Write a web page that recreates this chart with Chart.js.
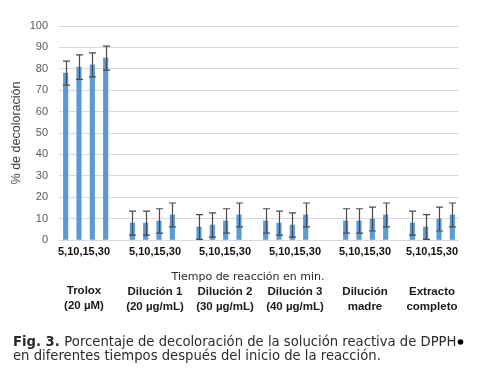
<!DOCTYPE html>
<html>
<head>
<meta charset="utf-8">
<script src="https://cdn.jsdelivr.net/npm/chart.js@4.4.1/dist/chart.umd.min.js"></script>
<style>
  html, body { margin: 0; padding: 0; background: #fff; }
  #wrap { width: 490px; height: 378px; position: relative; }
</style>
</head>
<body>
<div id="wrap"><canvas id="dpphChart" width="490" height="378"></canvas></div>
<script>
// ── Data ─────────────────────────────────────────────────────────────────────
const groupNames = [
    ['Trolox', '(20 µM)'],
    ['Dilución 1', '(20 µg/mL)'],
    ['Dilución 2', '(30 µg/mL)'],
    ['Dilución 3', '(40 µg/mL)'],
    ['Dilución', 'madre'],
    ['Extracto', 'completo']
];
const times = ['5', '10', '15', '30'];
const timeTickLabel = '5,10,15,30';
const yTicks = [0, 10, 20, 30, 40, 50, 60, 70, 80, 90, 100];

const trolox    = [78.0, 80.8, 81.8, 85.0];
const dilucion1 = [7.9, 7.9, 8.9, 11.7];
const dilucion2 = [6.1, 7.0, 8.9, 11.7];
const dilucion3 = [8.9, 7.9, 7.0, 11.7];
const madre     = [8.9, 8.9, 9.8, 11.7];
const extracto  = [7.9, 6.1, 9.8, 11.7];

const errTrolox    = [5.6, 5.7, 5.6, 5.6];
const errDilucion1 = [5.6, 5.6, 5.7, 5.6];
const errDilucion2 = [5.8, 5.7, 5.7, 5.6];
const errDilucion3 = [5.7, 5.6, 5.7, 5.6];
const errMadre     = [5.7, 5.7, 5.6, 5.6];
const errExtracto  = [5.6, 5.8, 5.6, 5.6];

// empty categories after each group (Excel-style spacing)
const gapsAfter = [1, 1, 1, 2, 1, 0];

const groupValues = [trolox, dilucion1, dilucion2, dilucion3, madre, extracto];
const groupErrors = [errTrolox, errDilucion1, errDilucion2, errDilucion3, errMadre, errExtracto];

// flatten into category axis
const labels = [], values = [], errors = [];
groupValues.forEach((vals, g) => {
    vals.forEach((v, i) => {
        labels.push(times[i]);
        values.push(v);
        errors.push(groupErrors[g][i]);
    });
    for (let k = 0; k < gapsAfter[g]; k++) {
        labels.push('');
        values.push(null);
        errors.push(null);
    }
});

// ── Error bars ───────────────────────────────────────────────────────────────
const errorBars = {
    id: 'errorBars',
    afterDatasetsDraw(chart) {
        const { ctx, scales: { y } } = chart;
        const meta = chart.getDatasetMeta(0);
        ctx.save();
        ctx.strokeStyle = '#4a4a4a';
        ctx.lineWidth = 1.2;
        meta.data.forEach((bar, i) => {
            const v = values[i], e = errors[i];
            if (v == null) return;
            const x = Math.round(bar.x) + 0.5;
            const yTop = y.getPixelForValue(v + e);
            const yBot = y.getPixelForValue(Math.max(v - e, 0));
            ctx.beginPath();
            ctx.moveTo(x, yTop); ctx.lineTo(x, yBot);
            ctx.moveTo(x - 3.5, yTop); ctx.lineTo(x + 3.5, yTop);
            ctx.moveTo(x - 3.5, yBot); ctx.lineTo(x + 3.5, yBot);
            ctx.stroke();
        });
        ctx.restore();
    }
};

// ── Text under the plot ──────────────────────────────────────────────────────
const labelCenters = [84, 155, 225, 295, 365, 432];

const bottomText = {
    id: 'bottomText',
    afterDraw(chart) {
        const { ctx } = chart;
        ctx.save();
        ctx.textAlign = 'center';
        ctx.textBaseline = 'middle';

        ctx.fillStyle = '#111';
        ctx.font = 'bold 11px "Liberation Sans", Arial, sans-serif';
        labelCenters.forEach(cx => ctx.fillText(timeTickLabel, cx, 252));

        ctx.fillStyle = '#2a2a2a';
        ctx.font = '11px "DejaVu Sans", Verdana, sans-serif';
        ctx.fillText('Tiempo de reacción en min.', 248, 277);

        ctx.fillStyle = '#1a1a1a';
        ctx.font = 'bold 11.5px "Liberation Sans", Arial, sans-serif';
        groupNames.forEach((lines, g) => {
            const dy = g === 0 ? -1 : 0;
            ctx.fillText(lines[0], labelCenters[g], 292 + dy);
            ctx.fillText(lines[1], labelCenters[g], 307 + dy);
        });

        // caption
        ctx.textAlign = 'left';
        ctx.fillStyle = '#2b2b2b';
        const bold = 'bold 13.2px "DejaVu Sans", Verdana, sans-serif';
        const reg = '13.2px "DejaVu Sans", Verdana, sans-serif';
        ctx.font = bold;
        ctx.fillText('Fig. 3.', 13, 343);
        let x = 13 + ctx.measureText('Fig. 3. ').width;
        ctx.font = reg;
        const line1 = 'Porcentaje de decoloración de la solución reactiva de DPPH';
        ctx.fillText(line1, x, 343);
        x += ctx.measureText(line1).width;
        ctx.fillStyle = '#000';
        ctx.beginPath();
        ctx.arc(x + 4, 342, 2.8, 0, Math.PI * 2);
        ctx.fill();
        ctx.fillStyle = '#2b2b2b';
        ctx.fillText('en diferentes tiempos después del inicio de la reacción.', 13, 357);
        ctx.restore();
    }
};

// ── Chart ────────────────────────────────────────────────────────────────────
const ctx = document.getElementById('dpphChart').getContext('2d');
const chart = new Chart(ctx, {
    type: 'bar',
    data: {
        labels: labels,
        datasets: [{
            label: '% de decoloración',
            data: values,
            backgroundColor: '#5b9bd5',
            borderWidth: 0,
            barThickness: 4.5,
            categoryPercentage: 1,
            barPercentage: 1
        }]
    },
    options: {
        responsive: false,
        animation: false,
        layout: { padding: { left: 0, right: 31, top: 26, bottom: 138 } },
        plugins: {
            legend: { display: false },
            tooltip: { enabled: false }
        },
        scales: {
            x: {
                offset: true,
                grid: { display: false },
                border: { display: false },
                ticks: { display: false },
                afterFit: s => { s.height = 0; }
            },
            y: {
                min: 0, max: 100,
                afterBuildTicks: s => { s.ticks = yTicks.map(v => ({ value: v })); },
                grid: { color: '#d9d9d9', lineWidth: 1, drawTicks: false },
                border: { display: false },
                ticks: {
                    color: '#595959',
                    padding: 11,
                    font: { family: '"Liberation Sans", Arial, sans-serif', size: 11 }
                },
                title: {
                    display: true,
                    text: '% de decoloración',
                    color: '#404040',
                    padding: { top: 9, bottom: 0 },
                    font: { family: '"Liberation Sans", Arial, sans-serif', size: 12.5 }
                },
                afterFit: s => { s.width = 59; }
            }
        }
    },
    plugins: [errorBars, bottomText]
});
</script>
</body>
</html>
